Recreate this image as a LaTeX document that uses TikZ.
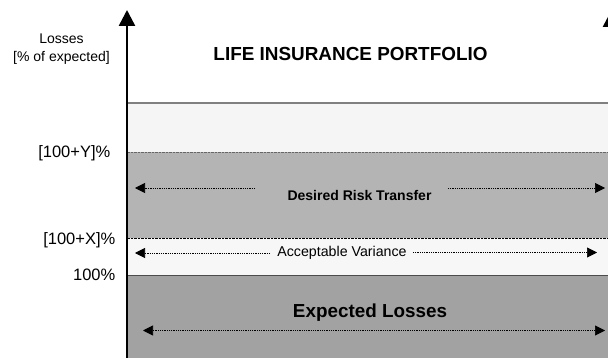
\documentclass[tikz,border=0pt]{standalone}
\usepackage{fontspec}
\setmainfont{Liberation Sans}
\usepackage{tikz}
\usetikzlibrary{calc,positioning,arrows.meta,arrows}
\definecolor{toplight}{RGB}{245,245,245}
\definecolor{transfergray}{RGB}{180,180,180}
\definecolor{variancelight}{RGB}{247,247,247}
\definecolor{expectedgray}{RGB}{162,162,162}
\tikzset{
axisline/.style={
  line width=2.5pt,
  -{Triangle[length=16pt,width=16pt]}
  },
spanarrow/.style={
  line width=0.7pt,
  dash pattern=on 1pt off 0.8pt,
  -{Triangle[length=10pt,width=10pt]}
  },
axislabel/.style={
  anchor=east,
  inner sep=0pt,
  font=\fontsize{16.5}{19}\selectfont
  },
bandtext/.style={
  inner sep=0pt,
  font=\fontsize{14}{17}\selectfont
  }
}
\begin{document}
\begin{tikzpicture}[>=latex,x=1pt,y=-1pt]
            \useasboundingbox (0,0) rectangle (608,358);
            % bands
            \fill[toplight] (128,103) rectangle (620,152);
            \fill[transfergray] (128,152) rectangle (620,238);
            \fill[variancelight] (128,238) rectangle (620,275);
            \fill[expectedgray] (128,275) rectangle (620,360);
            \draw[gray,line width=2pt] (128,103) -- (620,103);
            \draw[gray!80!black,line width=0.8pt,dash pattern=on 0.8pt off 0.6pt] (128,152.5) -- (620,152.5);
            \draw[black,line width=0.9pt,dash pattern=on 0.8pt off 0.6pt] (128,238) -- (620,238);
            \draw[black!70,line width=1.6pt] (128,275.5) -- (620,275.5);
            % axes
            \coordinate (axisbase) at (127,362);
            \coordinate (axistop) at (127,10);
            \coordinate (rightbase) at (611,362);
            \coordinate (righttop) at (611,11);
            \draw[axisline] (axisbase) -- (axistop);
            \draw[axisline] (rightbase) -- (righttop);
            % labels
            \node[align=center,inner sep=0pt,font=\fontsize{14}{18}\selectfont] (losses) at (61.5,49) {Losses\\{[}\% of expected{]}};
            \node[inner sep=0pt,font=\bfseries\fontsize{18.9}{22}\selectfont] (portfolio) at (350.5,53.5) {LIFE INSURANCE PORTFOLIO};
            \node[axislabel] (ylevel) at (110.5,153.5) {[100+Y]\%};
            \node[axislabel] (xlevel) at (115.5,240.5) {[100+X]\%};
            \node[axislabel] (hundred) at (115.5,274.5) {100\%};
            \node[bandtext,font=\bfseries\fontsize{14}{17}\selectfont] (transfer) at (359.5,195) {Desired Risk Transfer};
            \node[bandtext,font=\fontsize{14.2}{17}\selectfont] (variance) at (342,252.5) {Acceptable Variance};
            \node[bandtext,font=\bfseries\fontsize{18.85}{22}\selectfont] (expected) at (370,313) {Expected Losses};
            % span arrows
            \coordinate (transferL) at (255,188);
            \coordinate (transferLtip) at (135,188);
            \coordinate (transferR) at (448,188);
            \coordinate (transferRtip) at (605,188);
            \draw[spanarrow] (transferL) -- (transferLtip);
            \draw[spanarrow] (transferR) -- (transferRtip);
            \coordinate (varianceL) at (270,253);
            \coordinate (varianceLtip) at (135,253);
            \coordinate (varianceR) at (413,252.5);
            \coordinate (varianceRtip) at (597,252.5);
            \draw[spanarrow] (varianceL) -- (varianceLtip);
            \draw[spanarrow] (varianceR) -- (varianceRtip);
            \coordinate (expectedLtip) at (143,330.5);
            \coordinate (expectedRtip) at (605,330.5);
            \draw[spanarrow,{Triangle[length=10pt,width=10pt]}-{Triangle[length=10pt,width=10pt]}] (expectedLtip) -- (expectedRtip);
        \end{tikzpicture}
\end{document}
